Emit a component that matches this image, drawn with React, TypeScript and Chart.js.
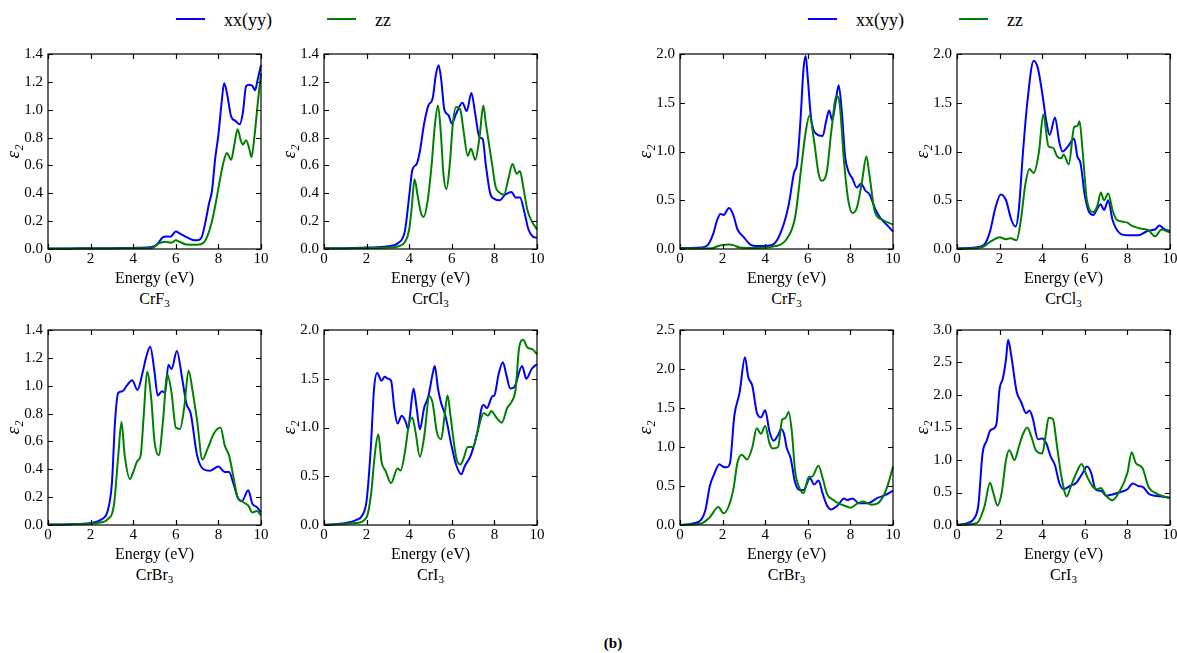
import React, { useEffect, useRef } from 'react';
import { Chart, registerables } from 'chart.js';

Chart.register(...registerables);

const FONT = "'Liberation Serif', 'Times New Roman', Times, serif";
Chart.defaults.font.family = FONT;
const BLUE = '#0000ff';
const GREEN = '#008000';

type P = [number, number][];

// ---------- tick labels ----------
const energyTicks = [0, 2, 4, 6, 8, 10];
const yTicks14 = [0, 0.2, 0.4, 0.6, 0.8, 1.0, 1.2, 1.4];
const yTicks20 = [0, 0.5, 1.0, 1.5, 2.0];
const yTicks25 = [0, 0.5, 1.0, 1.5, 2.0, 2.5];
const yTicks30 = [0, 0.5, 1.0, 1.5, 2.0, 2.5, 3.0];

// ---------- series legend ----------
const seriesNames = ['xx(yy)', 'zz'];

// ---------- CrF3 left ----------
const L_CrF3_xx: P = [[0,0.003],[1,0.004],[2,0.005],[3,0.006],[4,0.008],[4.8,0.012],[5.1,0.03],[5.4,0.085],[5.55,0.09],[5.75,0.088],[6.0,0.125],[6.2,0.11],[6.5,0.085],[6.8,0.065],[7.0,0.062],[7.2,0.08],[7.4,0.2],[7.55,0.32],[7.7,0.42],[7.85,0.65],[8.0,0.82],[8.15,1.05],[8.27,1.19],[8.4,1.12],[8.6,0.95],[8.8,0.92],[9.0,0.895],[9.15,0.98],[9.3,1.17],[9.45,1.18],[9.6,1.17],[9.72,1.14],[9.85,1.22],[10,1.32]];
const L_CrF3_zz: P = [[0,0.002],[2,0.003],[4,0.005],[4.9,0.008],[5.2,0.04],[5.5,0.052],[5.8,0.045],[6.0,0.062],[6.2,0.05],[6.5,0.032],[7.0,0.03],[7.3,0.045],[7.5,0.1],[7.7,0.2],[7.9,0.35],[8.1,0.52],[8.25,0.63],[8.4,0.69],[8.6,0.64],[8.75,0.75],[8.9,0.86],[9.05,0.78],[9.15,0.75],[9.3,0.78],[9.45,0.72],[9.55,0.66],[9.7,0.82],[9.85,1.05],[10,1.26]];

// ---------- CrCl3 left ----------
const L_CrCl3_xx: P = [[0,0.005],[1,0.006],[2,0.01],[3,0.02],[3.5,0.045],[3.8,0.13],[4.0,0.38],[4.15,0.57],[4.35,0.61],[4.5,0.7],[4.7,0.9],[4.9,1.03],[5.1,1.08],[5.25,1.25],[5.38,1.32],[5.5,1.22],[5.65,1.0],[5.85,0.96],[6.0,0.9],[6.2,0.97],[6.5,1.05],[6.7,0.99],[6.92,1.12],[7.1,0.97],[7.3,0.8],[7.45,0.79],[7.6,0.6],[7.8,0.4],[8.0,0.36],[8.25,0.35],[8.5,0.39],[8.8,0.41],[9.0,0.37],[9.2,0.37],[9.4,0.27],[9.6,0.14],[9.8,0.09],[10,0.08]];
const L_CrCl3_zz: P = [[0,0.004],[2,0.006],[3,0.01],[3.5,0.02],[3.8,0.05],[4.0,0.14],[4.12,0.3],[4.25,0.5],[4.4,0.38],[4.55,0.26],[4.67,0.23],[4.85,0.33],[5.05,0.6],[5.2,0.88],[5.35,1.03],[5.5,0.8],[5.6,0.55],[5.75,0.43],[5.9,0.6],[6.05,0.9],[6.2,1.02],[6.4,1.0],[6.55,0.85],[6.75,0.67],[6.9,0.72],[7.1,0.64],[7.3,0.8],[7.48,1.03],[7.6,0.9],[7.75,0.75],[7.9,0.6],[8.05,0.45],[8.2,0.41],[8.45,0.39],[8.65,0.5],[8.85,0.61],[9.05,0.54],[9.2,0.56],[9.35,0.45],[9.55,0.28],[9.75,0.2],[10,0.14]];

// ---------- CrBr3 left ----------
const L_CrBr3_xx: P = [[0,0.003],[1,0.006],[2,0.015],[2.5,0.04],[2.8,0.1],[3.0,0.3],[3.15,0.75],[3.3,0.95],[3.5,0.96],[3.7,1.0],[3.95,1.04],[4.2,0.97],[4.45,1.1],[4.6,1.2],[4.8,1.28],[5.0,1.1],[5.15,0.93],[5.35,0.96],[5.5,0.95],[5.65,1.15],[5.8,1.12],[6.05,1.25],[6.3,1.05],[6.5,0.87],[6.7,0.8],[7.0,0.5],[7.3,0.4],[7.6,0.39],[8.0,0.42],[8.3,0.38],[8.5,0.38],[8.7,0.3],[8.9,0.2],[9.1,0.17],[9.4,0.25],[9.6,0.15],[9.8,0.13],[10,0.09]];
const L_CrBr3_zz: P = [[0,0.002],[1,0.004],[2,0.01],[2.5,0.02],[2.8,0.04],[3.1,0.15],[3.3,0.5],[3.45,0.74],[3.6,0.5],[3.85,0.33],[4.0,0.38],[4.2,0.46],[4.35,0.5],[4.5,0.8],[4.65,1.1],[4.85,0.9],[5.0,0.6],[5.2,0.5],[5.4,0.75],[5.6,1.08],[5.8,0.95],[6.0,0.7],[6.2,0.69],[6.4,0.85],[6.6,1.11],[6.8,0.95],[7.0,0.75],[7.25,0.47],[7.5,0.55],[7.8,0.66],[8.1,0.7],[8.3,0.57],[8.5,0.5],[8.7,0.35],[8.9,0.2],[9.1,0.17],[9.4,0.14],[9.6,0.09],[9.8,0.1],[10,0.07]];

// ---------- CrI3 left ----------
const L_CrI3_xx: P = [[0,0.0],[1.0,0.02],[1.5,0.05],[1.8,0.1],[2.0,0.25],[2.2,0.8],[2.35,1.4],[2.5,1.56],[2.7,1.48],[2.85,1.52],[3.0,1.5],[3.15,1.48],[3.3,1.2],[3.45,1.04],[3.65,1.12],[3.85,1.05],[3.95,0.98],[4.05,1.15],[4.2,1.4],[4.35,1.2],[4.5,0.98],[4.7,1.2],[4.9,1.32],[5.1,1.55],[5.2,1.63],[5.35,1.4],[5.5,1.25],[5.7,1.12],[6.0,0.8],[6.2,0.62],[6.45,0.52],[6.6,0.6],[6.9,0.72],[7.2,0.95],[7.4,1.2],[7.5,1.23],[7.65,1.2],[7.9,1.32],[8.0,1.33],[8.2,1.55],[8.4,1.67],[8.55,1.55],[8.75,1.4],[8.95,1.42],[9.3,1.63],[9.5,1.5],[9.75,1.6],[10,1.65]];
const L_CrI3_zz: P = [[0,0.0],[1.5,0.02],[2.0,0.08],[2.2,0.3],[2.4,0.75],[2.55,0.93],[2.7,0.65],[2.9,0.55],[3.15,0.43],[3.45,0.58],[3.6,0.56],[3.8,0.75],[4.0,1.05],[4.15,1.1],[4.3,0.95],[4.5,0.7],[4.7,0.9],[4.95,1.32],[5.1,1.25],[5.3,0.95],[5.5,0.88],[5.65,1.1],[5.8,1.33],[5.95,1.1],[6.2,0.7],[6.4,0.62],[6.55,0.68],[6.75,0.8],[7.0,0.8],[7.2,0.95],[7.5,1.15],[7.7,1.12],[7.85,1.17],[8.1,1.1],[8.35,1.05],[8.6,1.2],[8.8,1.26],[9.0,1.4],[9.15,1.8],[9.35,1.9],[9.55,1.82],[9.8,1.8],[10,1.75]];

// ---------- CrF3 right ----------
const R_CrF3_xx: P = [[0,0.01],[0.5,0.01],[1.0,0.015],[1.3,0.04],[1.55,0.15],[1.75,0.3],[1.9,0.36],[2.05,0.35],[2.3,0.42],[2.5,0.35],[2.7,0.2],[3.0,0.12],[3.3,0.045],[3.6,0.03],[4.0,0.03],[4.4,0.05],[4.75,0.18],[5.1,0.45],[5.35,0.78],[5.5,0.88],[5.65,1.3],[5.8,1.85],[5.9,1.98],[6.0,1.75],[6.15,1.35],[6.4,1.18],[6.7,1.16],[6.85,1.3],[7.0,1.42],[7.15,1.32],[7.3,1.5],[7.45,1.68],[7.6,1.4],[7.75,0.95],[7.9,0.8],[8.1,0.72],[8.3,0.63],[8.5,0.67],[8.7,0.6],[8.9,0.56],[9.15,0.42],[9.4,0.32],[9.7,0.25],[10,0.18]];
const R_CrF3_zz: P = [[0,0.005],[1.5,0.008],[1.8,0.03],[2.0,0.04],[2.3,0.045],[2.5,0.04],[2.8,0.015],[3.5,0.01],[4.5,0.03],[5.0,0.1],[5.4,0.32],[5.7,0.85],[5.9,1.2],[6.08,1.37],[6.3,1.1],[6.5,0.78],[6.65,0.7],[6.9,0.8],[7.1,1.2],[7.35,1.57],[7.5,1.48],[7.7,0.9],[7.9,0.5],[8.1,0.37],[8.3,0.42],[8.55,0.7],[8.75,0.95],[8.9,0.75],[9.15,0.38],[9.5,0.3],[10,0.25]];

// ---------- CrCl3 right ----------
const R_CrCl3_xx: P = [[0,0.005],[0.5,0.01],[1.0,0.02],[1.3,0.05],[1.55,0.18],[1.8,0.42],[2.05,0.56],[2.3,0.5],[2.55,0.3],[2.75,0.23],[2.9,0.4],[3.1,1.0],[3.3,1.5],[3.6,1.93],[3.8,1.85],[4.0,1.6],[4.2,1.3],[4.35,1.17],[4.6,1.35],[4.8,1.1],[4.95,1.0],[5.2,1.05],[5.5,1.13],[5.65,0.95],[5.8,0.88],[6.0,0.55],[6.2,0.38],[6.4,0.35],[6.6,0.42],[6.75,0.46],[6.9,0.4],[7.1,0.5],[7.3,0.3],[7.6,0.17],[8.0,0.14],[8.5,0.14],[9.0,0.19],[9.3,0.2],[9.5,0.24],[9.7,0.21],[10,0.18]];
const R_CrCl3_zz: P = [[0,0.003],[0.5,0.005],[1.2,0.02],[1.6,0.08],[2.0,0.12],[2.3,0.1],[2.5,0.11],[2.8,0.09],[3.0,0.3],[3.2,0.65],[3.4,0.82],[3.6,0.78],[3.85,1.0],[4.05,1.38],[4.3,1.05],[4.5,1.04],[4.7,0.95],[4.9,0.93],[5.0,0.97],[5.25,0.87],[5.5,1.25],[5.65,1.26],[5.75,1.31],[5.9,1.0],[6.1,0.5],[6.4,0.38],[6.6,0.45],[6.75,0.58],[6.9,0.5],[7.1,0.57],[7.3,0.4],[7.5,0.3],[7.8,0.28],[8.0,0.27],[8.2,0.24],[8.6,0.21],[9.0,0.19],[9.3,0.13],[9.6,0.2],[10,0.17]];

// ---------- CrBr3 right ----------
const R_CrBr3_xx: P = [[0,0.0],[0.6,0.02],[1.0,0.07],[1.2,0.2],[1.4,0.5],[1.6,0.65],[1.85,0.78],[2.0,0.75],[2.2,0.74],[2.35,0.8],[2.55,1.4],[2.8,1.7],[3.05,2.15],[3.2,1.9],[3.4,1.78],[3.6,1.45],[3.8,1.38],[4.0,1.47],[4.2,1.2],[4.4,1.08],[4.6,1.15],[4.75,1.23],[4.9,1.15],[5.0,1.0],[5.2,0.85],[5.4,0.55],[5.6,0.45],[5.8,0.45],[6.1,0.6],[6.3,0.52],[6.5,0.57],[6.7,0.4],[6.9,0.25],[7.1,0.2],[7.4,0.25],[7.7,0.34],[7.85,0.32],[8.1,0.34],[8.4,0.28],[8.8,0.28],[9.3,0.35],[9.6,0.38],[10,0.44]];
const R_CrBr3_zz: P = [[0,0.0],[1.0,0.02],[1.4,0.1],[1.8,0.23],[2.05,0.15],[2.3,0.25],[2.5,0.45],[2.7,0.8],[2.9,0.9],[3.15,0.84],[3.4,1.0],[3.6,1.24],[3.8,1.17],[4.0,1.27],[4.2,1.05],[4.35,0.98],[4.6,1.0],[4.8,1.35],[4.95,1.37],[5.1,1.45],[5.25,1.2],[5.4,0.7],[5.6,0.48],[5.8,0.41],[6.05,0.62],[6.2,0.62],[6.5,0.76],[6.7,0.6],[6.9,0.4],[7.2,0.32],[7.5,0.27],[7.8,0.24],[8.0,0.22],[8.3,0.27],[8.6,0.3],[9.0,0.26],[9.3,0.28],[9.6,0.4],[9.8,0.55],[10,0.75]];

// ---------- CrI3 right ----------
const R_CrI3_xx: P = [[0,0.0],[0.5,0.03],[0.8,0.1],[1.0,0.3],[1.2,1.1],[1.4,1.3],[1.55,1.45],[1.7,1.48],[1.85,1.55],[2.0,2.1],[2.15,2.25],[2.3,2.55],[2.4,2.85],[2.55,2.6],[2.8,2.05],[3.0,1.9],[3.25,1.72],[3.4,1.76],[3.55,1.65],[3.8,1.32],[4.0,1.33],[4.2,1.25],[4.4,1.05],[4.6,0.92],[4.8,0.65],[5.0,0.55],[5.3,0.6],[5.6,0.65],[5.9,0.8],[6.1,0.9],[6.3,0.8],[6.5,0.55],[6.8,0.52],[7.0,0.45],[7.3,0.47],[7.6,0.5],[8.0,0.55],[8.25,0.64],[8.5,0.6],[8.75,0.58],[9.0,0.48],[9.3,0.45],[9.6,0.44],[10,0.42]];
const R_CrI3_zz: P = [[0,0.0],[0.8,0.02],[1.0,0.05],[1.3,0.3],[1.55,0.65],[1.7,0.5],[1.9,0.3],[2.1,0.5],[2.3,1.0],[2.45,1.15],[2.7,1.0],[2.9,1.2],[3.1,1.4],[3.3,1.5],[3.5,1.35],[3.7,1.15],[4.0,1.1],[4.15,1.35],[4.3,1.65],[4.5,1.63],[4.7,1.2],[4.9,0.75],[5.15,0.44],[5.35,0.6],[5.6,0.8],[5.85,0.94],[6.1,0.75],[6.4,0.58],[6.6,0.55],[6.75,0.57],[7.0,0.45],[7.3,0.38],[7.6,0.5],[8.0,0.8],[8.2,1.12],[8.4,0.95],[8.7,0.88],[9.0,0.58],[9.4,0.48],[9.7,0.44],[10,0.41]];

// ---------- layout constants ----------
const AXW = 48; // room for y tick labels + title
const PT = 12;
const PR = 14;
const AXH = 39;
const PW = 213;
const PH = 197;

interface Spec {
  left: number;
  top: number;
  xx: P;
  zz: P;
  yTicks: number[];
  base: string;
  sub: string;
}

const panels: Spec[] = [
  { left: 48, top: 52, xx: L_CrF3_xx, zz: L_CrF3_zz, yTicks: yTicks14, base: 'CrF', sub: '3' },
  { left: 324, top: 52, xx: L_CrCl3_xx, zz: L_CrCl3_zz, yTicks: yTicks14, base: 'CrCl', sub: '3' },
  { left: 48, top: 328, xx: L_CrBr3_xx, zz: L_CrBr3_zz, yTicks: yTicks14, base: 'CrBr', sub: '3' },
  { left: 324, top: 328, xx: L_CrI3_xx, zz: L_CrI3_zz, yTicks: yTicks20, base: 'CrI', sub: '3' },
  { left: 680, top: 52, xx: R_CrF3_xx, zz: R_CrF3_zz, yTicks: yTicks20, base: 'CrF', sub: '3' },
  { left: 957, top: 52, xx: R_CrCl3_xx, zz: R_CrCl3_zz, yTicks: yTicks20, base: 'CrCl', sub: '3' },
  { left: 680, top: 328, xx: R_CrBr3_xx, zz: R_CrBr3_zz, yTicks: yTicks25, base: 'CrBr', sub: '3' },
  { left: 957, top: 328, xx: R_CrI3_xx, zz: R_CrI3_zz, yTicks: yTicks30, base: 'CrI', sub: '3' },
];

const framePlugin = {
  id: 'frame',
  afterDraw(chart: any) {
    const { ctx, chartArea: a } = chart;
    const xs = chart.scales.x;
    const ys = chart.scales.y;
    const L = 5;
    ctx.save();
    ctx.strokeStyle = '#000';
    ctx.lineWidth = 1.2;
    ctx.strokeRect(a.left, a.top, a.right - a.left, a.bottom - a.top);
    ctx.beginPath();
    xs.ticks.forEach((t: any) => {
      const px = Math.round(xs.getPixelForValue(t.value)) + 0.5;
      ctx.moveTo(px, a.bottom);
      ctx.lineTo(px, a.bottom - L);
      ctx.moveTo(px, a.top);
      ctx.lineTo(px, a.top + L);
    });
    ys.ticks.forEach((t: any) => {
      const py = Math.round(ys.getPixelForValue(t.value)) + 0.5;
      ctx.moveTo(a.left, py);
      ctx.lineTo(a.left + L, py);
      ctx.moveTo(a.right, py);
      ctx.lineTo(a.right - L, py);
    });
    ctx.stroke();
    ctx.restore();
  },
};

function Panel({ spec }: { spec: Spec }) {
  const ref = useRef<HTMLCanvasElement>(null);
  useEffect(() => {
    const yMax = spec.yTicks[spec.yTicks.length - 1];
    const chart = new Chart(ref.current as HTMLCanvasElement, {
      type: 'line',
      data: {
        datasets: [
          {
            label: seriesNames[0],
            data: spec.xx.map(([x, y]) => ({ x, y })),
            borderColor: BLUE,
            backgroundColor: BLUE,
            borderWidth: 2,
            pointRadius: 0,
            cubicInterpolationMode: 'monotone',
            order: 1,
            clip: 4,
          } as any,
          {
            label: seriesNames[1],
            data: spec.zz.map(([x, y]) => ({ x, y })),
            borderColor: GREEN,
            backgroundColor: GREEN,
            borderWidth: 2,
            pointRadius: 0,
            cubicInterpolationMode: 'monotone',
            order: 0,
            clip: 4,
          } as any,
        ],
      },
      options: {
        responsive: false,
        animation: false,
        devicePixelRatio: 1,
        events: [],
        layout: { padding: { left: 0, top: PT, right: PR, bottom: 0 } },
        plugins: { legend: { display: false }, tooltip: { enabled: false } },
        scales: {
          x: {
            type: 'linear',
            min: 0,
            max: 10,
            afterBuildTicks: (s: any) => {
              s.ticks = energyTicks.map((v) => ({ value: v }));
            },
            afterFit: (s: any) => {
              s.height = AXH;
            },
            ticks: {
              color: '#000',
              font: { family: FONT, size: 15 },
              padding: 1,
              maxRotation: 0,
              autoSkip: false,
              callback: (v: any) => String(v),
            },
            grid: { display: false, drawTicks: false },
            border: { display: false },
            title: {
              display: true,
              text: 'Energy (eV)',
              color: '#000',
              font: { family: FONT, size: 16 },
              padding: 0,
            },
          },
          y: {
            type: 'linear',
            min: 0,
            max: yMax,
            afterBuildTicks: (s: any) => {
              s.ticks = spec.yTicks.map((v) => ({ value: v }));
            },
            afterFit: (s: any) => {
              s.width = AXW;
            },
            ticks: {
              color: '#000',
              font: { family: FONT, size: 15 },
              padding: 5,
              autoSkip: false,
              callback: (v: any) => Number(v).toFixed(1),
            },
            grid: { display: false, drawTicks: false },
            border: { display: false },
            title: {
              display: true,
              text: 'ε₂',
              color: '#000',
              font: { family: FONT, size: 19, style: 'italic' },
              padding: { top: 3, bottom: 0 },
            },
          },
        },
      } as any,
      plugins: [framePlugin],
    });
    return () => chart.destroy();
  }, [spec]);

  const w = AXW + PW + PR;
  const h = PT + PH + AXH;
  return (
    <>
      <canvas
        ref={ref}
        width={w}
        height={h}
        style={{ position: 'absolute', left: spec.left - AXW, top: spec.top - PT, width: w, height: h }}
      />
      <div
        style={{
          position: 'absolute',
          left: spec.left + PW / 2 - 60,
          width: 120,
          top: spec.top + PH + 40,
          textAlign: 'center',
          fontFamily: FONT,
          fontSize: 16,
          lineHeight: '20px',
          color: '#000',
        }}
      >
        {spec.base}
        <span style={{ fontSize: 11, position: 'relative', top: 3 }}>{spec.sub}</span>
      </div>
    </>
  );
}

function Legend({ x }: { x: number }) {
  const item = (color: string, label: string, lx: number) => (
    <>
      <div style={{ position: 'absolute', left: lx, top: 18, width: 29, height: 2, background: color }} />
      <div
        style={{
          position: 'absolute',
          left: lx + 48,
          top: 9,
          fontFamily: FONT,
          fontSize: 18,
          lineHeight: '22px',
          color: '#000',
          whiteSpace: 'nowrap',
        }}
      >
        {label}
      </div>
    </>
  );
  return (
    <>
      {item(BLUE, seriesNames[0], x)}
      {item(GREEN, seriesNames[1], x + 151)}
    </>
  );
}

export default function App() {
  return (
    <div
      style={{
        position: 'absolute',
        left: 0,
        top: 0,
        width: 1177,
        height: 653,
        background: '#fff',
        overflow: 'hidden',
      }}
    >
      <Legend x={176} />
      <Legend x={808} />
      {panels.map((p, i) => (
        <Panel key={i} spec={p} />
      ))}
      <div
        style={{
          position: 'absolute',
          left: 563,
          width: 100,
          top: 633,
          textAlign: 'center',
          fontFamily: FONT,
          fontWeight: 'bold',
          fontSize: 15,
          lineHeight: '20px',
          color: '#000',
        }}
      >
        (b)
      </div>
    </div>
  );
}
